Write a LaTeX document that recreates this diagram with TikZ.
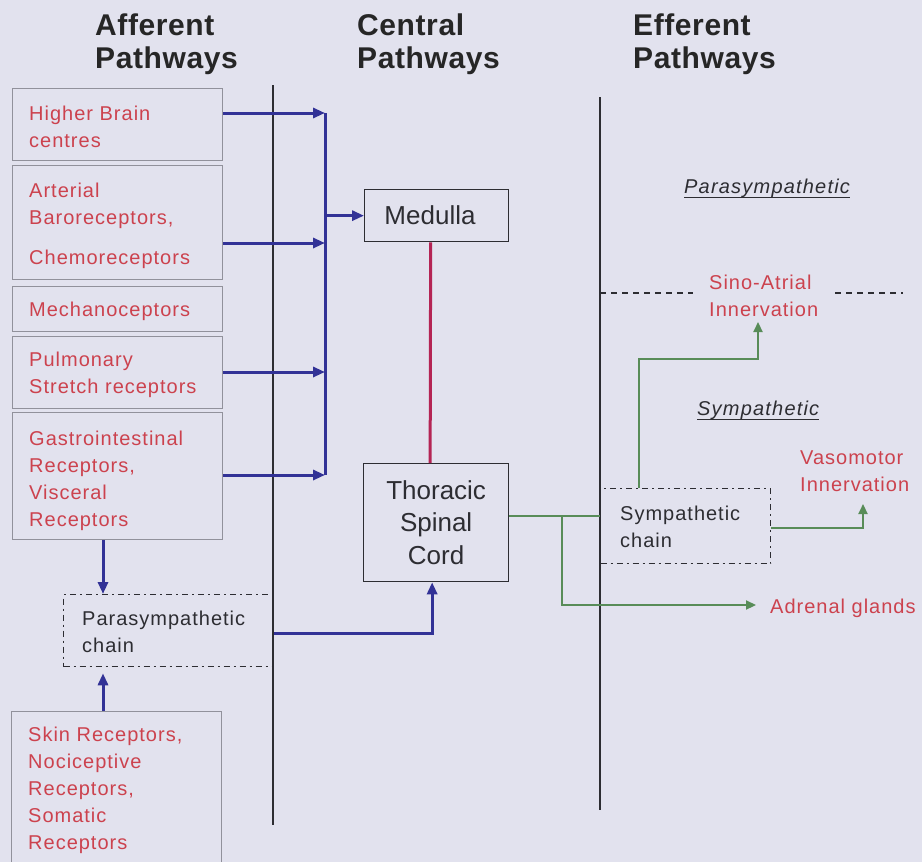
\documentclass[tikz,border=0pt]{standalone}
\usepackage{fontspec}
\setmainfont{Liberation Sans}
\usetikzlibrary{arrows.meta}

\definecolor{paper}{RGB}{226,226,238}
\definecolor{redlbl}{RGB}{204,66,78}
\definecolor{navyline}{RGB}{50,50,150}
\definecolor{greenline}{RGB}{88,140,88}
\definecolor{cordline}{RGB}{180,36,84}
\definecolor{boxgray}{RGB}{145,145,155}
\definecolor{ink}{RGB}{45,45,50}

\tikzset{
  heading/.style={font=\bfseries\fontsize{30}{33}\selectfont\addfontfeature{LetterSpace=2},
    text=black!85, align=left, anchor=north west, inner sep=0},
  lbl/.style={font=\fontsize{20}{27}\selectfont\addfontfeature{LetterSpace=5},
    align=left, anchor=north west, inner sep=0},
  redtxt/.style={lbl, text=redlbl},
  darktxt/.style={lbl, text=ink},
  srcbox/.style={draw=boxgray, line width=1pt, anchor=north west, inner sep=0},
  centerbox/.style={draw=ink, line width=1.3pt, anchor=north west, inner sep=0,
    font=\fontsize{26}{32.5}\selectfont, text=ink, align=center},
  chainbox/.style={draw=ink, line width=1.3pt,
    dash pattern=on 6pt off 4pt on 2pt off 4pt, anchor=north west, inner sep=0},
  divider/.style={draw=ink, line width=1.5pt},
  feedline/.style={draw=navyline, line width=3pt},
  feed/.style={feedline, -{Triangle[length=12pt,width=10pt]}},
  eff/.style={draw=greenline, line width=2.2pt},
  effarrow/.style={eff, -{Triangle[length=10pt,width=9pt]}},
  tagline/.style={font=\itshape\fontsize{20}{24}\selectfont\addfontfeature{LetterSpace=6},
    text=ink, anchor=base west, inner sep=0},
  guide/.style={draw=ink, line width=1.2pt, dash pattern=on 6pt off 5pt},
}

\begin{document}
\begin{tikzpicture}[x=1pt,y=-1pt]
\clip (0,0) rectangle (922,862);
\fill[paper] (0,0) rectangle (922,862);

% column headings
\node[heading] (hAff) at (95,13.4) {Afferent\\Pathways};
\node[heading] (hCen) at (357,13.4) {Central\\Pathways};
\node[heading] (hEff) at (633,13.4) {Efferent\\Pathways};

% column dividers
\coordinate (d1t) at (273,85);
\coordinate (d1b) at (273,825);
\coordinate (d2t) at (600,97);
\coordinate (d2b) at (600,810);
\draw[divider] (d1t) -- (d1b);
\draw[divider] (d2t) -- (d2b);

% afferent sources
\node[srcbox, minimum width=210, minimum height=72] (hb) at (12,88) {};
\node[redtxt] (hbT) at (29,105.6) {Higher Brain\\centres};
\node[srcbox, minimum width=210, minimum height=114] (ab) at (12,165) {};
\node[redtxt] (abT) at (29,182.6) {Arterial\\Baroreceptors,\\[13pt]Chemoreceptors};
\node[srcbox, minimum width=210, minimum height=45] (mc) at (12,286) {};
\node[redtxt] (mcT) at (29,301.6) {Mechanoceptors};
\node[srcbox, minimum width=210, minimum height=72] (pr) at (12,336) {};
\node[redtxt] (prT) at (29,351.6) {Pulmonary\\Stretch receptors};
\node[srcbox, minimum width=210, minimum height=127] (gi) at (12,412) {};
\node[redtxt] (giT) at (29,430.6) {Gastrointestinal\\Receptors,\\Visceral\\Receptors};
\node[srcbox, minimum width=210, minimum height=170] (sk) at (11,711) {};
\node[redtxt] (skT) at (28,726.6) {Skin Receptors,\\Nociceptive\\Receptors,\\Somatic\\Receptors};

% parasympathetic chain (afferent side)
\node[chainbox, minimum width=210, minimum height=72] (pc) at (63,594) {};
\node[darktxt] (pcT) at (82,610.6) {Parasympathetic\\chain};

% central boxes
\node[centerbox, minimum width=144, minimum height=52] (med) at (364,189) {};
\node[text=ink, font=\fontsize{26}{32.5}\selectfont, inner sep=0] (medT) at (430,215) {Medulla};
\node[centerbox, minimum width=145, minimum height=118] (tsc) at (363,463) {Thoracic\\Spinal\\Cord};

% afferent bus into the medulla
\coordinate (b1) at (325,113);
\coordinate (b2) at (325,243);
\coordinate (b3) at (325,372);
\coordinate (b4) at (325,475);
\draw[feedline] (b1) -- (b4);
\draw[feed] (hb.east |- b1) -- (b1);
\draw[feed] (ab.east |- b2) -- (b2);
\draw[feed] (pr.east |- b3) -- (b3);
\draw[feed] (gi.east |- b4) -- (b4);
\draw[feed] (b1 |- med.west) -- (med.west);

% afferent inputs to the parasympathetic chain
\coordinate (ax) at (103,0);
\draw[feed] (gi.south -| ax) -- (pc.north -| ax);
\draw[feed] (sk.north -| ax) -- ([yshift=-6]pc.south -| ax);
\draw[feed] ([yshift=-3]pc.east) -| ([xshift=-4]tsc.south);

% medulla to spinal cord
\draw[draw=cordline, line width=3pt] ([xshift=-6]med.south) -- ([xshift=-6]tsc.north);

% efferent side
\node[tagline] (para) at (684,193) {Parasympathetic};
\draw[draw=ink, line width=1pt] ([yshift=-4]para.base west) -- ([yshift=-4]para.base east);
\node[tagline] (symp) at (697,415) {Sympathetic};
\draw[draw=ink, line width=1pt] ([yshift=-4]symp.base west) -- ([yshift=-4]symp.base east);

\node[redtxt] (sa) at (709,274.6) {Sino-Atrial\\Innervation};
\coordinate (g1) at (600,293);
\coordinate (g2) at (693,293);
\coordinate (g3) at (835,293);
\coordinate (g4) at (903,293);
\draw[guide] (g1) -- (g2);
\draw[guide] (g3) -- (g4);

\node[chainbox, minimum width=170, minimum height=75] (sc) at (600,488) {};
\node[darktxt] (scT) at (620,505.6) {Sympathetic\\chain};
\node[redtxt] (vm) at (800,450.6) {Vasomotor\\Innervation};
\node[redtxt, anchor=base west] (ad) at (770,613) {Adrenal glands};

\coordinate (br) at (562,516);
\draw[eff] (br -| tsc.east) -- (sc.west |- br);
\draw[effarrow] (br) |- ([xshift=-14]ad.west |- 0,605);
\draw[effarrow] ([xshift=39]sc.north west) |- (758,359) -- (758,322);
\draw[effarrow] ([yshift=-1.5]sc.east) -| (863,504);
\end{tikzpicture}
\end{document}
